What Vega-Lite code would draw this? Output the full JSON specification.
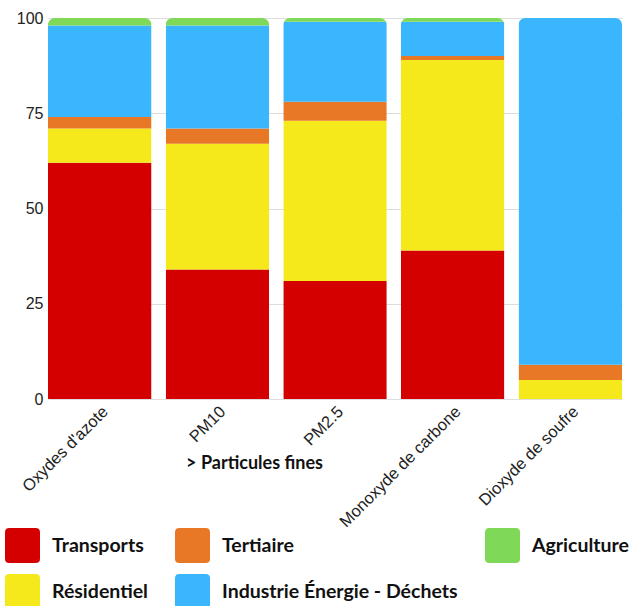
{
  "$schema": "https://vega.github.io/schema/vega-lite/v6.json",
  "width": 574,
  "height": 381,
  "autosize": {"type": "none"},
  "padding": {"left": 48, "top": 18, "right": 19, "bottom": 207},
  "background": "white",
  "data": {
    "values": [
      {"polluant": "Oxydes d'azote", "secteur": "Transports", "rang": 1, "valeur": 62},
      {"polluant": "Oxydes d'azote", "secteur": "Résidentiel", "rang": 2, "valeur": 9},
      {"polluant": "Oxydes d'azote", "secteur": "Tertiaire", "rang": 3, "valeur": 3},
      {"polluant": "Oxydes d'azote", "secteur": "Industrie Énergie - Déchets", "rang": 4, "valeur": 24},
      {"polluant": "Oxydes d'azote", "secteur": "Agriculture", "rang": 5, "valeur": 2},
      {"polluant": "PM10", "secteur": "Transports", "rang": 1, "valeur": 34},
      {"polluant": "PM10", "secteur": "Résidentiel", "rang": 2, "valeur": 33},
      {"polluant": "PM10", "secteur": "Tertiaire", "rang": 3, "valeur": 4},
      {"polluant": "PM10", "secteur": "Industrie Énergie - Déchets", "rang": 4, "valeur": 27},
      {"polluant": "PM10", "secteur": "Agriculture", "rang": 5, "valeur": 2},
      {"polluant": "PM2.5", "secteur": "Transports", "rang": 1, "valeur": 31},
      {"polluant": "PM2.5", "secteur": "Résidentiel", "rang": 2, "valeur": 42},
      {"polluant": "PM2.5", "secteur": "Tertiaire", "rang": 3, "valeur": 5},
      {"polluant": "PM2.5", "secteur": "Industrie Énergie - Déchets", "rang": 4, "valeur": 21},
      {"polluant": "PM2.5", "secteur": "Agriculture", "rang": 5, "valeur": 1},
      {"polluant": "Monoxyde de carbone", "secteur": "Transports", "rang": 1, "valeur": 39},
      {"polluant": "Monoxyde de carbone", "secteur": "Résidentiel", "rang": 2, "valeur": 50},
      {"polluant": "Monoxyde de carbone", "secteur": "Tertiaire", "rang": 3, "valeur": 1},
      {"polluant": "Monoxyde de carbone", "secteur": "Industrie Énergie - Déchets", "rang": 4, "valeur": 9},
      {"polluant": "Monoxyde de carbone", "secteur": "Agriculture", "rang": 5, "valeur": 1},
      {"polluant": "Dioxyde de soufre", "secteur": "Transports", "rang": 1, "valeur": 0},
      {"polluant": "Dioxyde de soufre", "secteur": "Résidentiel", "rang": 2, "valeur": 5},
      {"polluant": "Dioxyde de soufre", "secteur": "Tertiaire", "rang": 3, "valeur": 4},
      {"polluant": "Dioxyde de soufre", "secteur": "Industrie Énergie - Déchets", "rang": 4, "valeur": 91},
      {"polluant": "Dioxyde de soufre", "secteur": "Agriculture", "rang": 5, "valeur": 0}
    ]
  },
  "mark": {"type": "bar", "cornerRadiusTopLeft": 7, "cornerRadiusTopRight": 7},
  "encoding": {
    "x": {
      "field": "polluant",
      "type": "nominal",
      "sort": ["Oxydes d'azote", "PM10", "PM2.5", "Monoxyde de carbone", "Dioxyde de soufre"],
      "scale": {"paddingInner": 0.12, "paddingOuter": 0},
      "axis": {
        "title": "> Particules fines",
        "titleFont": "Lato",
        "titleFontWeight": "bold",
        "titleFontSize": 18,
        "titleColor": "#111",
        "titleX": 206,
        "titleY": 64,
        "titleAlign": "center",
        "titleBaseline": "middle",
        "labelAngle": -45,
        "labelFont": "Liberation Sans",
        "labelFontSize": 16.5,
        "labelColor": "#222",
        "labelPadding": 4,
        "ticks": false,
        "domain": false
      }
    },
    "y": {
      "field": "valeur",
      "type": "quantitative",
      "stack": "zero",
      "scale": {"domain": [0, 100], "nice": false},
      "axis": {
        "title": null,
        "values": [0, 25, 50, 75, 100],
        "labelFont": "Liberation Sans",
        "labelFontSize": 16,
        "labelColor": "#222",
        "labelPadding": 5,
        "ticks": false,
        "domain": false,
        "gridColor": "#dddddd",
        "gridWidth": 1
      }
    },
    "order": {"field": "rang", "type": "quantitative"},
    "color": {
      "field": "secteur",
      "type": "nominal",
      "scale": {
        "domain": ["Transports", "Résidentiel", "Tertiaire", "Industrie Énergie - Déchets", "Agriculture"],
        "range": ["#d40000", "#f5e91c", "#e97826", "#39b6fe", "#80d858"]
      },
      "legend": {
        "title": null,
        "orient": "none",
        "legendX": -43,
        "legendY": 510,
        "columns": 3,
        "columnPadding": 27,
        "rowPadding": 11,
        "symbolType": "M -1 -0.75 Q -1 -1 -0.75 -1 L 0.75 -1 Q 1 -1 1 -0.75 L 1 0.75 Q 1 1 0.75 1 L -0.75 1 Q -1 1 -1 0.75 Z",
        "symbolSize": 1225,
        "symbolStrokeWidth": 0,
        "labelFont": "Lato",
        "labelFontWeight": "bold",
        "labelFontSize": 19.5,
        "labelColor": "#111",
        "labelOffset": 12,
        "labelLimit": 400
      }
    }
  },
  "config": {"view": {"stroke": null}}
}
